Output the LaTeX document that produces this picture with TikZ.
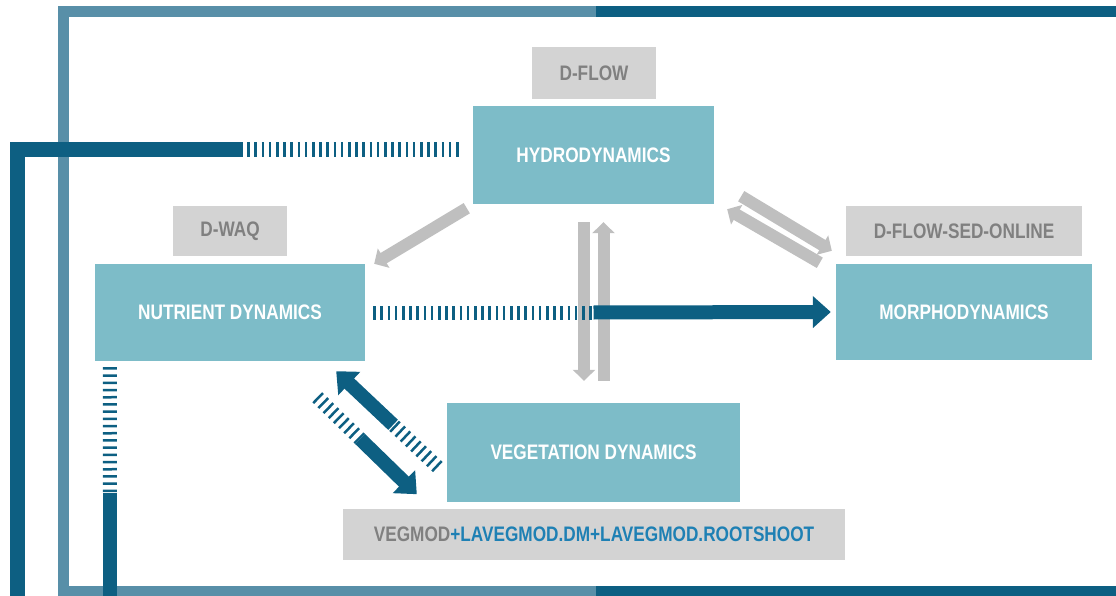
\documentclass[tikz,border=0pt]{standalone}
\usepackage{fontspec}
\setmainfont{Liberation Sans}[FakeStretch=0.82]
\usetikzlibrary{arrows.meta, calc}

\definecolor{modelteal}{RGB}{125,188,200}
\definecolor{toolgray}{RGB}{211,211,211}
\definecolor{toolink}{RGB}{128,128,128}
\definecolor{toolblue}{RGB}{30,128,180}
\definecolor{arrowgray}{RGB}{191,191,191}
\definecolor{linkblue}{RGB}{13,95,130}
\definecolor{framelight}{RGB}{88,143,168}

\begin{document}
\begin{tikzpicture}[x=1pt, y=-1pt,
        model/.style={fill=modelteal, text=white, inner sep=0pt, font=\bfseries\fontsize{21}{21}\selectfont},
        tool/.style={fill=toolgray, text=toolink, inner sep=0pt, font=\bfseries\fontsize{21}{21}\selectfont},
        grayflow/.style={draw=arrowgray, line width=12pt, -{Triangle[length=11pt, width=22pt]}},
        blueflow/.style={draw=linkblue, line width=14pt, -{Triangle[length=18pt, width=31pt]}},
        bluetick/.style={draw=linkblue, line width=14pt, dash pattern=on 2.5pt off 4.7pt}]
            \useasboundingbox (0,0) rectangle (1116,596);

            \draw[framelight, line width=11pt, line join=miter] (596,11.5) -- (63.5,11.5) -- (63.5,591) -- (596,591);
            \draw[linkblue, line width=11pt] (596,11.5) -- (1120,11.5);
            \draw[linkblue, line width=11pt] (596,591) -- (1120,591);

            \node[model, minimum width=241pt, minimum height=98pt] (hydro) at (593.5,155) {HYDRODYNAMICS};
            \node[tool, minimum width=124pt, minimum height=52pt] (dflow) at (594,73) {D-FLOW};
            \node[model, minimum width=270pt, minimum height=97pt] (nutrient) at (230,312.5) {NUTRIENT DYNAMICS};
            \node[tool, minimum width=114pt, minimum height=50pt] (dwaq) at (230,231) {D-WAQ};
            \node[model, minimum width=256pt, minimum height=96pt] (morpho) at (964,312) {MORPHODYNAMICS};
            \node[tool, minimum width=236pt, minimum height=50pt] (sed) at (964,231) {D-FLOW-SED-ONLINE};
            \node[model, minimum width=293pt, minimum height=99pt] (veg) at (593.5,452.5) {VEGETATION DYNAMICS};
            \node[tool, minimum width=502pt, minimum height=51pt] (vegmod) at (594,534.5)
                {VEGMOD\textcolor{toolblue}{+LAVEGMOD.DM+LAVEGMOD.ROOTSHOOT}};

            \coordinate (outleft) at (17.5,600);
            \coordinate (outbottom) at (110,600);

            \draw[grayflow] ($(hydro.south west)+(-6,4)$) -- ($(nutrient.north east)+(9,0)$);
            \draw[grayflow] ($(hydro.south)+(-9.5,18)$) -- ($(veg.north)+(-9.5,-22)$);
            \draw[grayflow] ($(veg.north)+(10,-22)$) -- ($(hydro.south)+(10,18)$);
            \draw[grayflow] ($(hydro.south east)+(27,-8)$) -- ($(morpho.north west)+(-4,-13)$);
            \draw[grayflow] ($(morpho.north west)+(-16,-1)$) -- ($(hydro.south east)+(13,5)$);

            \draw[bluetick] ($(nutrient.east)+(8,0)$) -- (nutrient.east -| hydro.south);
            \draw[blueflow] (nutrient.east -| hydro.south) -- ($(morpho.west)+(-5,0)$);

            \coordinate (upstart) at ($(veg.west)+(-9,14.5)$);
            \coordinate (upend) at ($(nutrient.south east)+(-29,10)$);
            \draw[bluetick] (upstart) -- ($(upstart)!0.44!(upend)$);
            \draw[blueflow] ($(upstart)!0.44!(upend)$) -- (upend);

            \coordinate (downstart) at ($(nutrient.south east)+(-48,36)$);
            \coordinate (downend) at ($(veg.south west)+(-30,-8)$);
            \draw[bluetick] (downstart) -- ($(downstart)!0.43!(downend)$);
            \draw[blueflow] ($(downstart)!0.43!(downend)$) -- (downend);

            \draw[linkblue, line width=15pt, line join=miter] (outleft) -- (17.5,149.5) -- (240,149.5);
            \draw[bluetick, line width=15pt] (240,149.5) -- ($(hydro.west)+(-10,-5.5)$);

            \draw[bluetick] ($(nutrient.south west)+(15,6)$) -- (110,493);
            \draw[linkblue, line width=14pt] (110,493) -- (outbottom);
        \end{tikzpicture}
\end{document}
